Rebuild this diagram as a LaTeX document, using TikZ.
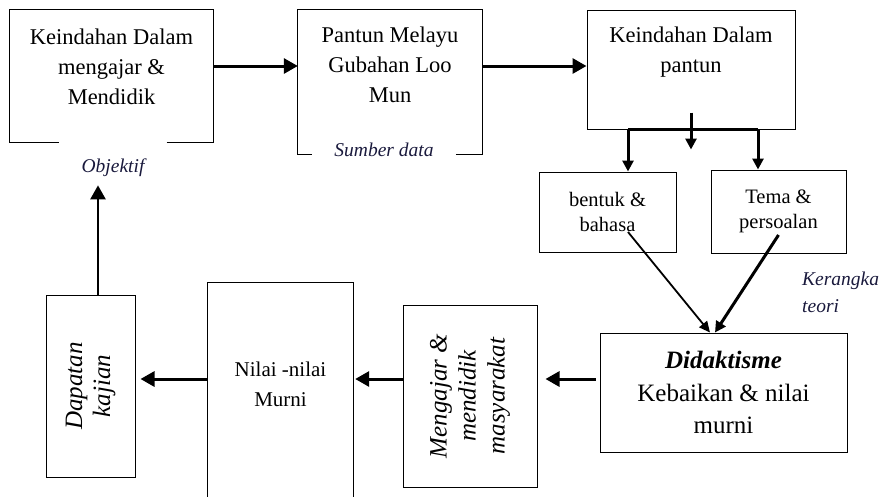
\documentclass[tikz,border=0pt]{standalone}
\usepackage{fontspec}
\setmainfont{Liberation Serif}
\usetikzlibrary{arrows.meta,positioning}
\definecolor{labelink}{RGB}{25,25,60}

\tikzset{
  edge/.style={line width=1pt},
  box/.style={draw, edge, inner sep=0pt, align=center},
  frame/.style={inner sep=0pt},
  bigtxt/.style={font=\fontsize{22.5}{30}\selectfont, align=center, inner sep=0pt},
  midtxt/.style={font=\fontsize{21}{30}\selectfont, align=center, inner sep=0pt},
  smalltxt/.style={font=\fontsize{20.5}{25}\selectfont},
  vtxt/.style={font=\itshape\fontsize{25}{29}\selectfont, align=center, inner sep=0pt, rotate=90},
  lbl/.style={font=\itshape\fontsize{19.5}{26}\selectfont, text=labelink, inner xsep=22pt, inner ysep=2pt},
  arr/.style={line width=3pt, -{Triangle[length=14pt,width=15pt]}},
  arrthin/.style={line width=1.8pt, -{Triangle[length=11pt,width=10pt]}},
  arrmid/.style={line width=3pt, -{Triangle[length=11pt,width=11pt]}}
}

\begin{document}
\begin{tikzpicture}[x=1pt,y=-1pt]
\useasboundingbox (0,0) rectangle (885,496);

% top row
\node[frame, minimum width=203pt, minimum height=132pt] (k1) at (111.5,76) {};
\node[bigtxt, below=18.5pt of k1.north] (k1t) {Keindahan Dalam\\mengajar \&\\Mendidik};
\node[lbl, anchor=base] (obj) at (113,172) {Objektif};
\draw[edge] (obj.east |- k1.south) -- (k1.south east) -- (k1.north east)
  -- (k1.north west) -- (k1.south west) -- (obj.west |- k1.south);

\node[frame, minimum width=184pt, minimum height=144pt] (pm) at (390,82) {};
\node[bigtxt, below=17pt of pm.north] (pmt) {Pantun Melayu\\Gubahan Loo\\Mun};
\node[lbl, anchor=base] (sd) at (384,156) {Sumber data};
\draw[edge] (sd.east |- pm.south) -- (pm.south east) -- (pm.north east)
  -- (pm.north west) -- (pm.south west) -- (sd.west |- pm.south);

\node[box, minimum width=208pt, minimum height=119pt] (kp) at (691,69.5) {};
\node[bigtxt, below=17pt of kp.north] (kpt) {Keindahan Dalam\\pantun};

% middle
\node[box, smalltxt, minimum width=137pt, minimum height=80pt] (bb) at (607.5,212) {bentuk \&\\bahasa};
\node[box, smalltxt, minimum width=135pt, minimum height=83pt] (tp) at (778.5,211.5) {Tema \&\\persoalan};
\node[lbl, inner sep=0pt, align=left, anchor=base west, font=\itshape\fontsize{19.5}{27}\selectfont] (kt) at (802,312) {Kerangka\\teori};

% bottom row
\node[box, font=\fontsize{25}{32.5}\selectfont, minimum width=247pt, minimum height=119pt] (di) at (723.5,392.5)
  {\textbf{\textit{Didaktisme}}\\Kebaikan \& nilai\\murni};
\node[box, minimum width=134pt, minimum height=182pt] (mm) at (470,396) {};
\node[vtxt] (mmt) at (mm.center) {Mengajar \&\\mendidik\\masyarakat};

\node[frame, minimum width=145pt, minimum height=217pt] (nm) at (280.5,391.5) {};
\draw[edge] (nm.south west) -- (nm.north west) -- (nm.north east) -- (nm.south east);
\node[midtxt, below=79pt of nm.north] (nmt) {Nilai -nilai\\Murni};

\node[box, minimum width=89pt, minimum height=182pt] (dk) at (90.5,386) {};
\node[vtxt, font=\itshape\fontsize{25}{28}\selectfont] (dkt) at (dk.center) {Dapatan\\kajian};

% connectors
\coordinate (top) at (0,66);
\coordinate (row) at (0,379);
\draw[arr] (k1.east |- top) -- (pm.west |- top);
\draw[arr] (pm.east |- top) -- (kp.west |- top);

\draw[line width=3pt] ([xshift=20.5pt]bb.north |- kp.south) -- ([xshift=-20.5pt]tp.north |- kp.south);
\draw[arrmid] ([xshift=20.5pt]bb.north |- kp.south) -- ([xshift=20.5pt]bb.north);
\draw[arrmid] ([xshift=-20.5pt]tp.north |- kp.south) -- ([xshift=-20.5pt]tp.north);
\draw[arrmid] ([yshift=17pt]kp.south) -- ([yshift=-20pt]kp.south);

\draw[arrthin] ([xshift=20.5pt,yshift=-20pt]bb.center) -- ([xshift=-13.5pt]di.north);
\draw[arrmid] ([yshift=-23.5pt]tp.center) -- ([xshift=-8.5pt]di.north);

\draw[arr, shorten <=4pt, shorten >=8pt] (di.west |- row) -- (mm.east |- row);
\draw[arr, shorten >=2pt] (mm.west |- row) -- (nm.east |- row);
\draw[arr, shorten >=5pt] (nm.west |- row) -- (dk.east |- row);
\draw[arr, line width=2.5pt, shorten >=7pt] ([xshift=7.5pt]dk.north) -- ([xshift=7.5pt]dk.north |- obj.south);
\end{tikzpicture}
\end{document}
